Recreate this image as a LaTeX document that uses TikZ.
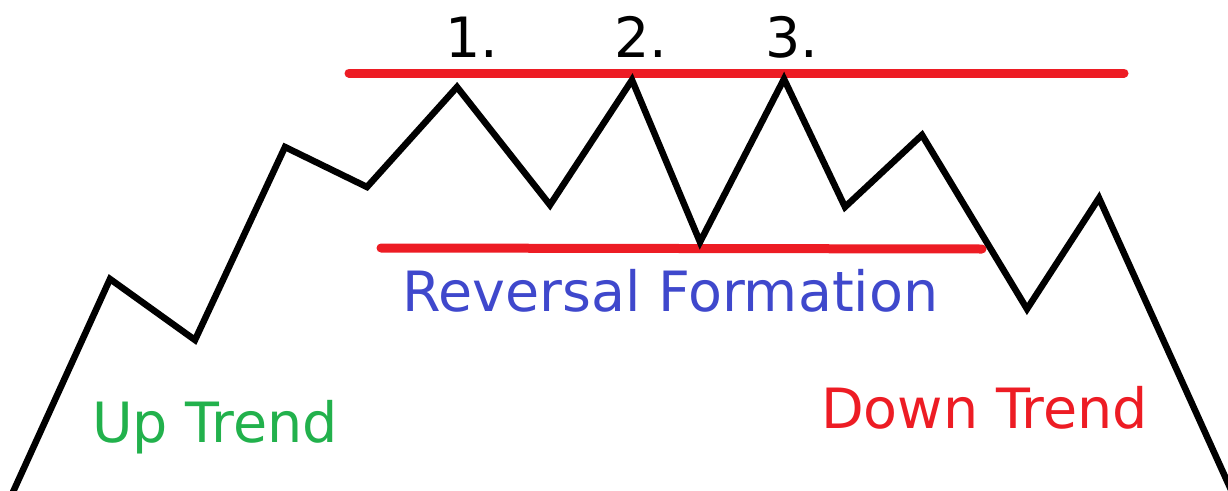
\documentclass[tikz,border=0pt]{standalone}
\usepackage{fontspec}
\setmainfont{DejaVu Sans}
\usepackage{xcolor}
\usetikzlibrary{positioning}
\definecolor{paintred}{HTML}{ED1C24}
\definecolor{paintgreen}{HTML}{22B14C}
\definecolor{paintblue}{HTML}{3F48CC}

\begin{document}
\begin{tikzpicture}[
    x=1pt, y=-1pt,
    price/.style={line width=6.5pt, black, line join=miter},
    level/.style={line width=9pt, paintred, line cap=round},
    label/.style={font=\fontsize{55.5}{60}\selectfont, inner sep=0pt, anchor=base west}
]

\useasboundingbox (0,0) rectangle (1228,490);

% 价格走势的拐点
\coordinate (s0) at (13,492);
\coordinate (s1) at (110,279);
\coordinate (s2) at (195,340);
\coordinate (s3) at (285,147);
\coordinate (s4) at (367,187);
\coordinate (p1) at (457,87);
\coordinate (s5) at (550,205);
\coordinate (p2) at (632,80);
\coordinate (s6) at (700,242);
\coordinate (p3) at (784,79);
\coordinate (s7) at (845,207);
\coordinate (s8) at (922,135);
\coordinate (s9) at (1027,309);
\coordinate (s10) at (1099,198);
\coordinate (s11) at (1232,492);

% 阻力线与支撑线
\coordinate (topL) at (349,73);
\coordinate (topR) at (1124,73);
\coordinate (botL) at (381,248);
\coordinate (botR) at (982,249);

\draw [level] (topL) -- (topR);
\draw [level] (botL) -- (botR);

% 走势折线
\draw [price] (s0) -- (s1) -- (s2) -- (s3) -- (s4) -- (p1) -- (s5) -- (p2)
    -- (s6) -- (p3) -- (s7) -- (s8) -- (s9) -- (s10) -- (s11);

% 文字
\node (one) [label] at (445,57) {1.};
\node (two) [label] at (614,57) {2.};
\node (three) [label] at (765,57) {3.};
\node (reversal) [label, paintblue] at (402,311) {Reversal Formation};
\node (up) [label, paintgreen] at (92,442) {Up Trend};
\node (down) [label, paintred] at (821,428) {Down Trend};

\end{tikzpicture}
\end{document}
